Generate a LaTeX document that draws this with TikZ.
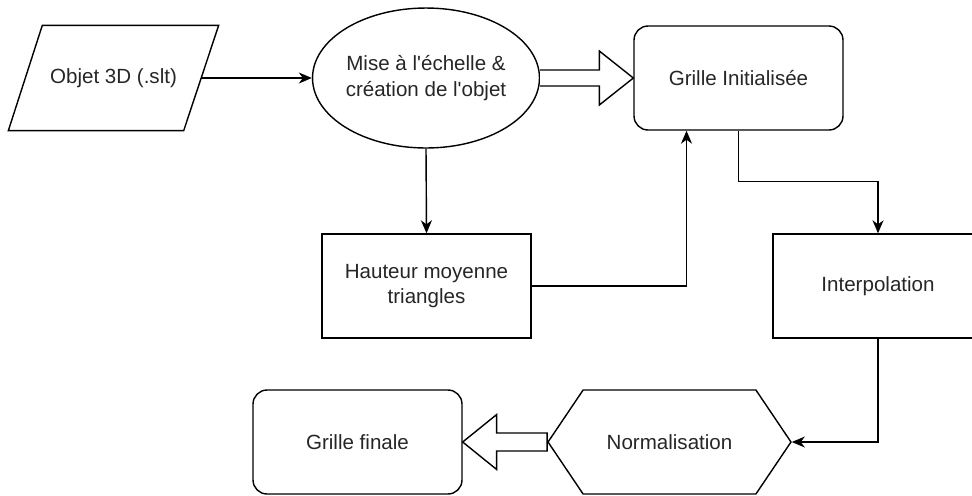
\documentclass[tikz,border=0pt]{standalone}
\usepackage{fontspec}
\setmainfont{Liberation Sans}
\usetikzlibrary{shapes.geometric,shapes.symbols,arrows.meta,calc}

\begin{document}
\begin{tikzpicture}[x=0.02cm,y=-0.02cm,line width=0.8pt,
  font=\fontsize{11.7}{14.5}\selectfont,
  every node/.style={text=black!85,align=center,inner sep=0pt},
  boite/.style={draw,minimum width=4.18cm,minimum height=2.08cm},
  arrondi/.style={boite,rounded corners=0.28cm},
  fleche/.style={-{Stealth[length=0.26cm,width=0.22cm,inset=0.08cm]}},
  grosse/.style={fill=white,line join=miter}]

\useasboundingbox (0,0) rectangle (972,495);

%ligne du haut
\node[minimum width=4.18cm,minimum height=2.08cm] (obj) at (113.5,78) {Objet 3D (.slt)};
\draw (obj.south west) -- ($(obj.north west)+(34,0)$) -- (obj.north east)
  -- ($(obj.south east)+(-35,0)$) -- cycle;
\coordinate (objbord) at ($(obj.east)+(-17.5,0)$);
\node[draw,ellipse,minimum width=4.16cm,minimum height=2.8cm]
  (ell) at (426,78) {Mise à l\textquotesingle échelle \&\\création de l\textquotesingle objet};
\node[arrondi] (grid) at (738.5,78) {Grille Initialisée};

%milieu
\node[boite] (haut) at (426.5,286) {Hauteur moyenne\\triangles};
\node[boite,minimum width=4.2cm] (interp) at (878,286) {Interpolation};

%ligne du bas
\node[draw,signal,signal to=west and east,signal pointer angle=112,
  minimum width=4.86cm,minimum height=2.08cm] (norm) at (669.5,442) {Normalisation};
\node[arrondi] (fin) at (357.5,442) {Grille finale};

%fleches
\draw[fleche] (objbord) -- (ell.west);
\draw[fleche] (ell.south) -- (haut.north);
\draw[fleche] (haut.east) -| ($(grid.south)+(-52,0)$);
\coordinate (coude) at ($(interp.north)+(0,-52)$);
\draw[fleche] (grid.south) |- (coude) -- (interp.north);
\draw[fleche] (interp.south) |- (norm.east);

\draw[grosse] ($(ell.east)+(0,-8)$) -- ($(grid.west)+(-34,-8)$) -- ($(grid.west)+(-34,-27)$)
  -- (grid.west) -- ($(grid.west)+(-34,27)$) -- ($(grid.west)+(-34,8)$) -- ($(ell.east)+(0,8)$);
\draw[grosse] ($(norm.west)+(0,-9)$) -- ($(fin.east)+(34,-9)$) -- ($(fin.east)+(34,-27.5)$)
  -- (fin.east) -- ($(fin.east)+(34,27.5)$) -- ($(fin.east)+(34,9)$) -- ($(norm.west)+(0,9)$) -- cycle;

\end{tikzpicture}
\end{document}
